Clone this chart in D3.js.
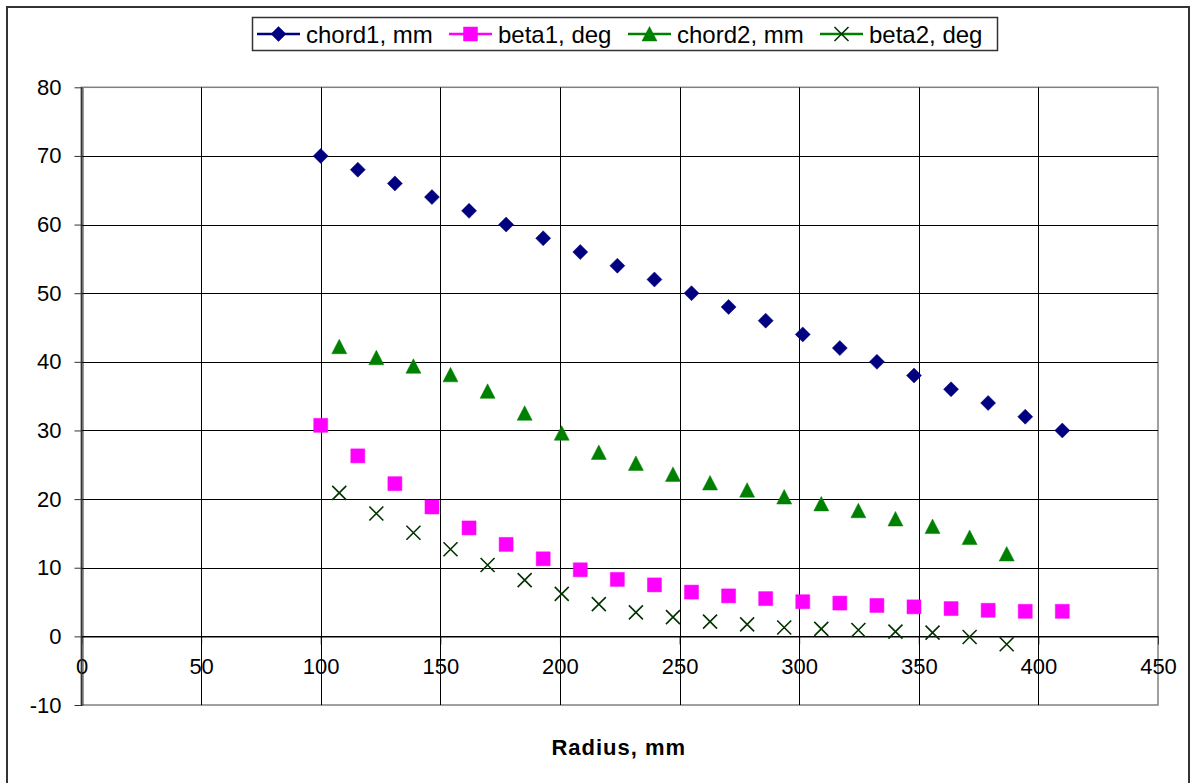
<!DOCTYPE html>
<html>
<head>
<meta charset="utf-8">
<script src="https://cdn.jsdelivr.net/npm/d3@7"></script>
<style>
  html, body { margin: 0; padding: 0; background: #fff; }
  svg { display: block; font-family: "Liberation Sans", Arial, sans-serif; }
</style>
</head>
<body>
<svg id="chart" width="1195" height="783"></svg>
<script>
// ---- data ----
const radius1 = [100, 115.5, 131, 146.5, 162, 177.5, 193, 208.5, 224, 239.5, 255, 270.5, 286, 301.5, 317, 332.5, 348, 363.5, 379, 394.5, 410];
const chord1 = [70, 68, 66, 64, 62, 60, 58, 56, 54, 52, 50, 48, 46, 44, 42, 40, 38, 36, 34, 32, 30];
const beta1 = [30.75, 26.3, 22.25, 18.85, 15.8, 13.4, 11.3, 9.7, 8.3, 7.5, 6.45, 5.9, 5.5, 5.05, 4.85, 4.5, 4.3, 4.05, 3.8, 3.65, 3.65];
const radius2 = [107.75, 123.25, 138.75, 154.25, 169.75, 185.25, 200.75, 216.25, 231.75, 247.25, 262.75, 278.25, 293.75, 309.25, 324.75, 340.25, 355.75, 371.25, 386.75];
const chord2 = [42.2, 40.6, 39.35, 38.1, 35.7, 32.5, 29.6, 26.8, 25.2, 23.6, 22.35, 21.3, 20.3, 19.3, 18.3, 17.1, 16.0, 14.4, 12.0];
const beta2 = [20.9, 17.9, 15.1, 12.7, 10.4, 8.2, 6.2, 4.7, 3.5, 2.8, 2.15, 1.75, 1.3, 1.1, 0.93, 0.7, 0.55, -0.1, -1.15];
const seriesNames = ["chord1, mm", "beta1, deg", "chord2, mm", "beta2, deg"];
const xTicks = [0, 50, 100, 150, 200, 250, 300, 350, 400, 450];
const yTicks = [-10, 0, 10, 20, 30, 40, 50, 60, 70, 80];
const xTitle = "Radius, mm";

// ---- layout ----
const svg = d3.select("#chart");
const W = 1195, H = 783;
const plot = { left: 81.5, right: 1158, top: 87.3, bottom: 705 };

const x = d3.scaleLinear().domain([0, 450]).range([plot.left, plot.right]);
const y = d3.scaleLinear().domain([-10, 80]).range([plot.bottom, plot.top]);

svg.append("rect").attr("width", W).attr("height", H).attr("fill", "#fff");
// outer chart border
svg.append("rect").attr("x", 7).attr("y", 7).attr("width", 1182).attr("height", 800)
  .attr("fill", "none").attr("stroke", "#333").attr("stroke-width", 2);

// plot area border
svg.append("rect").attr("x", plot.left).attr("y", plot.top)
  .attr("width", plot.right - plot.left).attr("height", plot.bottom - plot.top)
  .attr("fill", "#fff").attr("stroke", "#808080").attr("stroke-width", 1.5);

// gridlines
const g = svg.append("g");
g.selectAll(".hg").data(yTicks.filter(d => d > -10)).enter().append("line")
  .attr("x1", plot.left).attr("x2", plot.right)
  .attr("y1", d => Math.round(y(d)) + 0.5).attr("y2", d => Math.round(y(d)) + 0.5)
  .attr("stroke", d => d === 80 ? "#808080" : "#000").attr("stroke-width", 1);
g.selectAll(".vg").data(xTicks.filter(d => d > 0 && d < 450)).enter().append("line")
  .attr("x1", d => Math.round(x(d)) + 0.5).attr("x2", d => Math.round(x(d)) + 0.5)
  .attr("y1", plot.top).attr("y2", plot.bottom)
  .attr("stroke", "#000").attr("stroke-width", 1);

const fmt = d => String(d);

// y axis
const yAxis = d3.axisLeft(y).tickValues(yTicks).tickFormat(fmt).tickSize(8).tickPadding(13).tickSizeOuter(0);
const yg = svg.append("g").attr("transform", `translate(${Math.round(plot.left) + 0.5},0)`).call(yAxis);
yg.select(".domain").attr("stroke", "#333");
yg.selectAll(".tick line").attr("stroke", "#333");
yg.selectAll(".tick text").attr("font-size", 22).attr("fill", "#000")
  .attr("font-family", "Liberation Sans, Arial, sans-serif");

// x axis at y = 0
const xAxis = d3.axisBottom(x).tickValues(xTicks).tickFormat(fmt).tickSize(8).tickPadding(14).tickSizeOuter(0);
const xg = svg.append("g").attr("transform", `translate(0,${Math.round(y(0)) + 0.5})`).call(xAxis);
xg.select(".domain").attr("stroke", "#000");
xg.selectAll(".tick line").attr("stroke", "#333");
xg.selectAll(".tick text").attr("font-size", 22).attr("fill", "#000")
  .attr("font-family", "Liberation Sans, Arial, sans-serif");

// vertical gridlines over x labels (as in reference)
g.raise();
svg.append("line").attr("x1", plot.left).attr("x2", plot.left).attr("y1", plot.top).attr("y2", plot.bottom)
  .attr("stroke", "#333").attr("stroke-width", 1.5);
xg.select(".domain").raise();

// axis title
svg.append("text").attr("x", (plot.left + plot.right) / 2 - 1).attr("y", 755)
  .attr("text-anchor", "middle").attr("font-size", 22).attr("font-weight", "bold")
  .attr("letter-spacing", 1)
  .text(xTitle);

// ---- markers ----
const markerPaths = {
  diamond: "M0,-7.5L7.5,0L0,7.5L-7.5,0Z",
  square: "M-7,-7H7V7H-7Z",
  triangle: "M0,-7.5L7.5,7L-7.5,7Z",
  cross: "M-7,-7L7,7M-7,7L7,-7"
};
const series = [
  { name: seriesNames[0], xs: radius1, ys: chord1, marker: "diamond", fill: "#000080", stroke: "#000080", line: "#000080" },
  { name: seriesNames[1], xs: radius1, ys: beta1, marker: "square", fill: "#FF00FF", stroke: "#FF00FF", line: "#FF00FF" },
  { name: seriesNames[2], xs: radius2, ys: chord2, marker: "triangle", fill: "#008000", stroke: "#008000", line: "#008000" },
  { name: seriesNames[3], xs: radius2, ys: beta2, marker: "cross", fill: "none", stroke: "#003300", line: "#008000" }
];

function drawMarker(sel, s) {
  sel.append("path").attr("d", markerPaths[s.marker])
    .attr("fill", s.fill)
    .attr("stroke", s.stroke)
    .attr("stroke-width", s.marker === "cross" ? 1.6 : 0.5);
}

series.forEach(s => {
  const gs = svg.append("g");
  s.ys.forEach((v, i) => {
    const m = gs.append("g").attr("transform", `translate(${x(s.xs[i])},${y(v)})`);
    drawMarker(m, s);
  });
});

// ---- legend ----
const lg = svg.append("g");
lg.append("rect").attr("x", 252.5).attr("y", 17.5).attr("width", 745).attr("height", 33)
  .attr("fill", "#fff").attr("stroke", "#333").attr("stroke-width", 1.5);
const legendX = [257, 449, 628, 820];
series.forEach((s, i) => {
  const it = lg.append("g").attr("transform", `translate(${legendX[i]},34)`);
  it.append("line").attr("x1", 0).attr("x2", 43).attr("y1", 0).attr("y2", 0)
    .attr("stroke", s.line).attr("stroke-width", 2.5);
  const m = it.append("g").attr("transform", "translate(21.5,0)");
  drawMarker(m, s);
  it.append("text").attr("x", 49).attr("y", 8.5).attr("font-size", 24).attr("fill", "#000")
    .text(s.name);
});
</script>
</body>
</html>
